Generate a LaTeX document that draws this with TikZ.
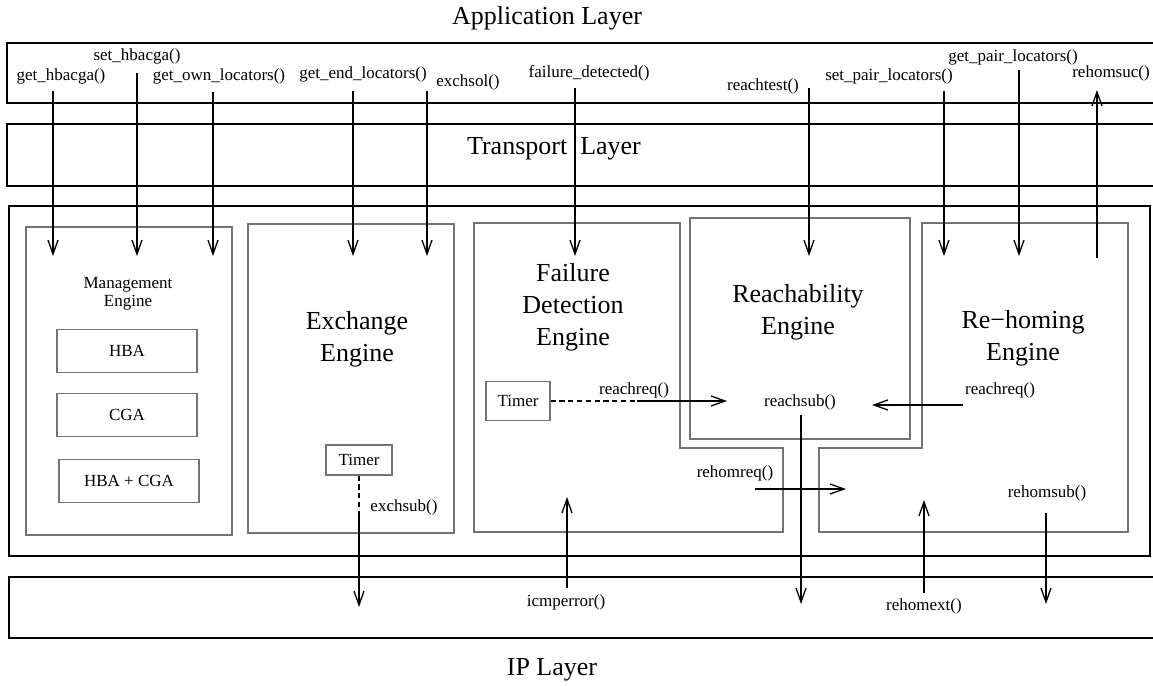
\documentclass[tikz,border=0pt]{standalone}
\usepackage{fontspec}
\setmainfont{Liberation Serif}
\usetikzlibrary{arrows.meta}

\begin{document}
\begin{tikzpicture}[x=0.5pt,y=-0.5pt,every node/.style={inner sep=0pt},
    fn/.style={font=\fontsize{8.5}{9}\selectfont,align=center},
    title/.style={font=\fontsize{13}{16}\selectfont,align=center},
    layer/.style={draw,line width=0.65pt},
    engine/.style={draw=black!55,line width=0.55pt},
    sub/.style={engine,fn,minimum width=70pt,minimum height=21.5pt},
    call/.style={-{Straight Barb[length=7pt,width=5pt]},line width=0.65pt},
    wait/.style={dash pattern=on 2.6pt off 1.8pt,line width=0.6pt}]
  \useasboundingbox (0,0) rectangle (1153,686);
  \clip (0,0) rectangle (1153,686);
  \draw[layer] (7,43) rectangle (1170,103);
  \draw[layer] (7,124) rectangle (1170,186);
  \draw[layer] (9,206) rectangle (1150,556);
  \draw[layer] (9,577) rectangle (1170,638);
  \node[title] (app) at (547,18) {Application Layer};
  \node[title] (tsp) at (554,149) {Transport\enspace Layer};
  \node[title] (ip) at (552,670) {IP Layer};

  \draw[engine] (26,227) rectangle (232,535);
  \draw[engine] (248,224) rectangle (454,533);
  \draw[engine] (474,223) -| (680,448) -| (783,532) -- (474,532) -- cycle;
  \draw[engine] (690,218) rectangle (910,439);
  \draw[engine] (922,223) -| (1128,532) -| (819,448) -- (922,448) -- cycle;

  \node[fn] (mgt) at (128,294) {Management\\Engine};
  \node[title] (exc) at (357,339) {Exchange\\Engine};
  \node[title] (fail) at (573,307) {Failure\\Detection\\Engine};
  \node[title] (reach) at (798,312) {Reachability\\Engine};
  \node[title] (rehome) at (1023,338) {Re−homing\\Engine};
  \node[sub] (hba) at (127,351) {HBA};
  \node[sub] (cga) at (127,415) {CGA};
  \node[sub] (both) at (129,481) {HBA + CGA};
  \node[engine,fn,minimum width=33pt,minimum height=15pt] (xt) at (359,460) {Timer};
  \node[engine,fn,minimum width=32pt,minimum height=19.5pt] (ft) at (518,401) {Timer};

  \foreach[count=\cnt] \xx/\ya/\lx/\ly/\txt in {53/91/61/76/get\_hbacga(),
      137/73/137/56/set\_hbacga(), 213/92/219/76/get\_own\_locators(),
      353/91/363/74/get\_end\_locators(), 427/91/468/82/exchsol(),
      575/88/589/73/failure\_detected(), 809/88/763/86/reachtest(),
      944/91/889/76/set\_pair\_locators(), 1019/70/1013/57/get\_pair\_locators()} {
    \node[fn] (top\cnt) at (\lx,\ly) {\txt};
    \coordinate (src\cnt) at (\xx,\ya);
    \coordinate (dst\cnt) at (\xx,256);
    \draw[call] (src\cnt) -- (dst\cnt);
  }
  \node[fn] (suc) at (1111,73) {rehomsuc()};
  \coordinate (suca) at (1097,258);
  \coordinate (sucb) at (1097,90);
  \draw[call] (suca) -- (sucb);

  \node[fn] (xsub) at (404,507) {exchsub()};
  \coordinate (xa) at (359,513);
  \coordinate (xb) at (359,607);
  \draw[wait] (xt) -- (xa);
  \draw[call] (xa) -- (xb);

  \node[fn] (rq1) at (634,390) {reachreq()};
  \coordinate (fa) at (637,401);
  \coordinate (fb) at (727,401);
  \draw[wait] (ft) -- (fa);
  \draw[call] (fa) -- (fb);

  \node[fn] (rsub) at (800,402) {reachsub()};
  \coordinate (ra) at (801,415);
  \coordinate (rb) at (801,604);
  \draw[call] (ra) -- (rb);

  \node[fn] (rq2) at (1000,390) {reachreq()};
  \coordinate (ha) at (963,405);
  \coordinate (hb) at (872,405);
  \draw[call] (ha) -- (hb);

  \node[fn] (hreq) at (735,473) {rehomreq()};
  \coordinate (qa) at (755,489);
  \coordinate (qb) at (846,489);
  \draw[call] (qa) -- (qb);

  \node[fn] (hsub) at (1047,493) {rehomsub()};
  \coordinate (sa) at (1046,513);
  \coordinate (sb) at (1046,604);
  \draw[call] (sa) -- (sb);

  \node[fn] (hext) at (924,606) {rehomext()};
  \coordinate (ea) at (924,593);
  \coordinate (eb) at (924,500);
  \draw[call] (ea) -- (eb);

  \node[fn] (icmp) at (566,602) {icmperror()};
  \coordinate (ia) at (567,588);
  \coordinate (ib) at (567,497);
  \draw[call] (ia) -- (ib);
\end{tikzpicture}
\end{document}
